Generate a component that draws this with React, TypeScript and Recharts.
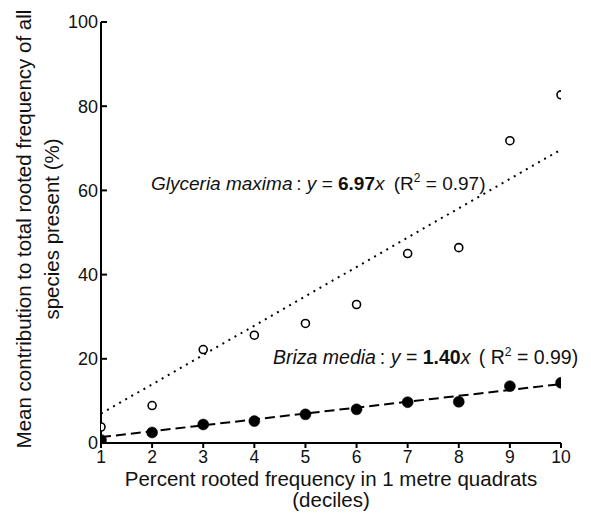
import React from 'react';
import { ComposedChart, Scatter, Line, XAxis, YAxis, Customized } from 'recharts';

const deciles = [1, 2, 3, 4, 5, 6, 7, 8, 9, 10];
const glyceria = [3.8, 8.9, 22.2, 25.6, 28.4, 32.9, 45.0, 46.4, 71.8, 82.7];
const briza = [0.7, 2.5, 4.4, 5.2, 6.8, 8.0, 9.7, 9.8, 13.5, 14.3];
const glyceriaSlope = 6.97;
const brizaSlope = 1.4;
const fitRange = [1, 10];
const xTicks = [1, 2, 3, 4, 5, 6, 7, 8, 9, 10];
const yTicks = [0, 20, 40, 60, 80, 100];

const glyceriaPts = deciles.map((x, i) => ({ x, y: glyceria[i] }));
const brizaPts = deciles.map((x, i) => ({ x, y: briza[i] }));
const glyceriaFit = fitRange.map((x) => ({ x, y: glyceriaSlope * x }));
const brizaFit = fitRange.map((x) => ({ x, y: brizaSlope * x }));

const FONT = '"Liberation Sans", Arial, Helvetica, sans-serif';

const YTick = (props: any) => {
  const { x, y, payload } = props;
  return (
    <g>
      <line x1={x} x2={x + 6} y1={y} y2={y} stroke="#000" strokeWidth={2} />
      <text x={x - 3} y={y} dy="0.36em" textAnchor="end" fontSize={18} fontFamily={FONT} fill="#111">
        {payload.value}
      </text>
    </g>
  );
};

const XTick = (props: any) => {
  const { x, y, payload } = props;
  return (
    <text x={x} y={y} dy="0.71em" textAnchor="middle" fontSize={17.5} fontFamily={FONT} fill="#111">
      {payload.value}
    </text>
  );
};

const OpenDot = (props: any) => {
  const { cx, cy } = props;
  return <circle cx={cx} cy={cy} r={4} fill="#fff" stroke="#000" strokeWidth={1.6} />;
};

const FilledDot = (props: any) => {
  const { cx, cy } = props;
  return <circle cx={cx} cy={cy} r={5.5} fill="#000" stroke="#000" strokeWidth={0.5} />;
};

const Texts = () => (
  <g fontFamily={FONT} fill="#111">
    <text x={151} y={190} fontSize={19}>
      <tspan fontStyle="italic">Glyceria maxima</tspan>
      <tspan>{'\u2009: '}</tspan>
      <tspan fontStyle="italic">y</tspan>
      <tspan> = </tspan>
      <tspan fontWeight="bold">6.97</tspan>
      <tspan fontStyle="italic">x</tspan>
      <tspan dx={4}>{' (R'}</tspan>
      <tspan dy={-8} fontSize={12}>2</tspan>
      <tspan dy={8}> = 0.97)</tspan>
    </text>
    <text x={273} y={364} fontSize={19.5}>
      <tspan fontStyle="italic">Briza media</tspan>
      <tspan>{'\u2009: '}</tspan>
      <tspan fontStyle="italic">y</tspan>
      <tspan> = </tspan>
      <tspan fontWeight="bold">1.40</tspan>
      <tspan fontStyle="italic">x</tspan>
      <tspan dx={3}>{' ( R'}</tspan>
      <tspan dy={-8} fontSize={12}>2</tspan>
      <tspan dy={8}> = 0.99)</tspan>
    </text>
    <text x={331} y={486} fontSize={20.5} textAnchor="middle">
      Percent rooted frequency in 1 metre quadrats
    </text>
    <text x={331} y={507} fontSize={20.5} textAnchor="middle">
      (deciles)
    </text>
    <text x={31} y={229} fontSize={20.5} textAnchor="middle" transform="rotate(-90 31 229)">
      Mean contribution to total rooted frequency of all
    </text>
    <text x={59} y={229} fontSize={20.5} textAnchor="middle" transform="rotate(-90 59 229)">
      species present (%)
    </text>
  </g>
);

export default function App() {
  return (
    <div style={{ position: 'absolute', left: 0, top: 0, background: '#fff' }}>
      <ComposedChart width={591} height={515} margin={{ top: 22, right: 30, bottom: 42, left: 41 }}>
        <XAxis
          type="number"
          dataKey="x"
          domain={[1, 10]}
          ticks={xTicks}
          allowDataOverflow
          stroke="#000"
          axisLine={{ stroke: '#000', strokeWidth: 2 }}
          tickLine={{ stroke: '#000', strokeWidth: 2 }}
          tickSize={5}
          tickMargin={3}
          height={30}
          tick={<XTick />}
        />
        <YAxis
          type="number"
          dataKey="y"
          domain={[0, 100]}
          ticks={yTicks}
          allowDataOverflow
          axisLine={{ stroke: '#000', strokeWidth: 2 }}
          tickLine={false}
          tickSize={0}
          tickMargin={0}
          width={60}
          tick={<YTick />}
        />
        <Line
          data={glyceriaFit}
          dataKey="y"
          type="linear"
          stroke="#000"
          strokeWidth={2}
          strokeDasharray="2 5"
          dot={false}
          isAnimationActive={false}
        />
        <Line
          data={brizaFit}
          dataKey="y"
          type="linear"
          stroke="#000"
          strokeWidth={2}
          strokeDasharray="10 5"
          dot={false}
          isAnimationActive={false}
        />
        <Scatter data={glyceriaPts} dataKey="y" shape={<OpenDot />} isAnimationActive={false} />
        <Scatter data={brizaPts} dataKey="y" shape={<FilledDot />} isAnimationActive={false} />
        <Customized component={Texts} />
      </ComposedChart>
    </div>
  );
}
